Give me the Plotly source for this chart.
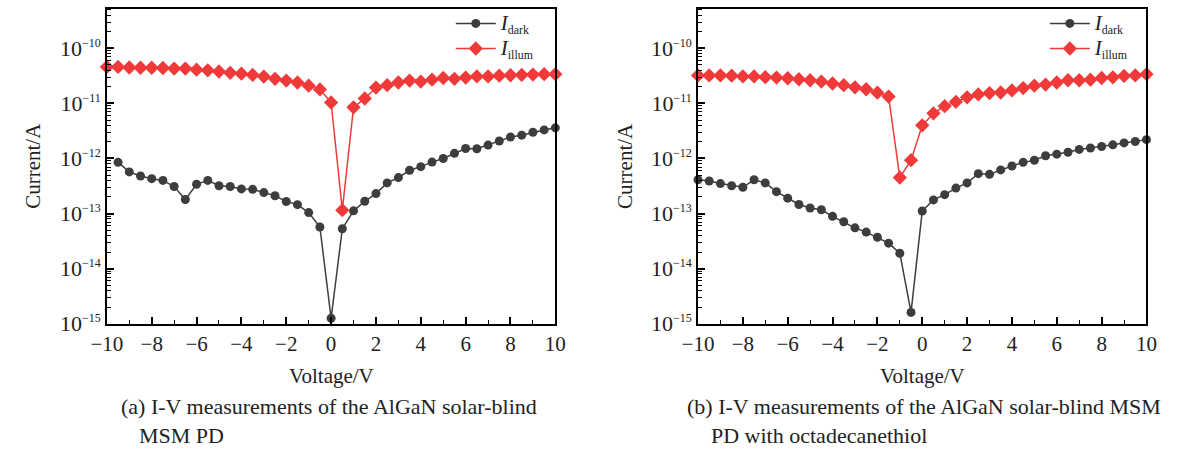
import plotly.graph_objects as go

voltage = [-10, -9.5, -9, -8.5, -8, -7.5, -7, -6.5, -6, -5.5, -5, -4.5, -4, -3.5, -3, -2.5, -2, -1.5, -1, -0.5,
           0, 0.5, 1, 1.5, 2, 2.5, 3, 3.5, 4, 4.5, 5, 5.5, 6, 6.5, 7, 7.5, 8, 8.5, 9, 9.5, 10]

# (a) AlGaN solar-blind MSM PD
a_dark = [None, 8.5e-13, 5.7e-13, 4.8e-13, 4.3e-13, 4.0e-13, 3.1e-13, 1.8e-13, 3.4e-13, 4.0e-13,
          3.2e-13, 3.1e-13, 2.8e-13, 2.75e-13, 2.4e-13, 2.1e-13, 1.65e-13, 1.45e-13, 1.04e-13, 5.7e-14,
          1.25e-15, 5.3e-14, 1.12e-13, 1.67e-13, 2.3e-13, 3.6e-13, 4.5e-13, 6.1e-13, 7.1e-13, 8.6e-13,
          1.0e-12, 1.24e-12, 1.52e-12, 1.5e-12, 1.75e-12, 2.08e-12, 2.45e-12, 2.65e-12, 3.0e-12, 3.3e-12, 3.6e-12]
a_illum = [4.6e-11, 4.6e-11, 4.5e-11, 4.45e-11, 4.45e-11, 4.4e-11, 4.3e-11, 4.3e-11, 4.1e-11, 4.0e-11,
           3.8e-11, 3.6e-11, 3.47e-11, 3.3e-11, 3.07e-11, 2.8e-11, 2.6e-11, 2.4e-11, 2.1e-11, 1.8e-11,
           1.04e-11, 1.15e-13, 8.5e-12, 1.23e-11, 1.94e-11, 2.15e-11, 2.4e-11, 2.6e-11, 2.5e-11, 2.7e-11,
           2.9e-11, 2.8e-11, 2.95e-11, 3.1e-11, 3.1e-11, 3.2e-11, 3.25e-11, 3.3e-11, 3.35e-11, 3.4e-11, 3.4e-11]

# (b) with octadecanethiol
b_dark = [4.1e-13, 3.9e-13, 3.5e-13, 3.2e-13, 3.0e-13, 4.1e-13, 3.6e-13, 2.5e-13, 1.9e-13, 1.46e-13,
          1.26e-13, 1.17e-13, 8.9e-14, 7.1e-14, 5.5e-14, 4.6e-14, 3.7e-14, 2.9e-14, 1.9e-14, 1.6e-15,
          1.11e-13, 1.77e-13, 2.2e-13, 2.9e-13, 3.6e-13, 5.3e-13, 5.15e-13, 6.2e-13, 7.3e-13, 8.5e-13,
          9.3e-13, 1.12e-12, 1.2e-12, 1.3e-12, 1.46e-12, 1.55e-12, 1.65e-12, 1.77e-12, 1.92e-12, 2.03e-12, 2.2e-12]
b_illum = [3.23e-11, 3.23e-11, 3.23e-11, 3.2e-11, 3.1e-11, 3.1e-11, 3.0e-11, 2.95e-11, 2.87e-11, 2.75e-11,
           2.64e-11, 2.5e-11, 2.3e-11, 2.15e-11, 1.96e-11, 1.81e-11, 1.57e-11, 1.33e-11, 4.5e-13, 9.3e-13,
           4.0e-12, 6.6e-12, 8.9e-12, 1.07e-11, 1.29e-11, 1.46e-11, 1.54e-11, 1.58e-11, 1.72e-11, 1.9e-11,
           2.1e-11, 2.2e-11, 2.4e-11, 2.64e-11, 2.64e-11, 2.7e-11, 2.9e-11, 2.98e-11, 3.16e-11, 3.23e-11, 3.4e-11]

x_ticks = [-10, -8, -6, -4, -2, 0, 2, 4, 6, 8, 10]
y_exponents = [-15, -14, -13, -12, -11, -10]
captions_a = ["(a) I-V measurements of the AlGaN solar-blind", "MSM PD"]
captions_b = ["(b) I-V measurements of the AlGaN solar-blind MSM", "PD with octadecanethiol"]

W, H = 1178, 462
FONT = "Liberation Serif, Times New Roman, serif"
DARK = "#3d3d3d"
RED = "#f03a3a"
TXT = "#222"

def px(x):
    return x / W

def py(y):
    return 1 - y / H

fig = go.Figure()

panels = [
    (a_dark, a_illum, "x", "y", "legend", (93, 552)),
    (b_dark, b_illum, "x2", "y2", "legend2", (698, 1157)),
]

def legend_name(sub):
    return "<span style='font-size:21px'><i>I</i></span><sub>%s</sub>" % sub

for dark, illum, xa, ya, lg, _ in panels:
    fig.add_trace(go.Scatter(
        x=voltage, y=dark, xaxis=xa, yaxis=ya, mode="lines+markers", name=legend_name("dark"),
        line=dict(color=DARK, width=1.5), marker=dict(symbol="circle", size=9, color=DARK),
        cliponaxis=False, legend=lg, connectgaps=False))
    fig.add_trace(go.Scatter(
        x=voltage, y=illum, xaxis=xa, yaxis=ya, mode="lines+markers", name=legend_name("illum"),
        line=dict(color=RED, width=1.5), marker=dict(symbol="diamond", size=11, color=RED),
        cliponaxis=False, legend=lg))

minor_vals = [m * 10.0 ** e for e in range(-15, -9) for m in range(2, 10)]
y_tickvals = [10.0 ** e for e in y_exponents]
y_ticktext = ["10<sup><span style='font-size:12px'>\u2212%d</span></sup>" % (-e) for e in y_exponents]
x_ticktext = [("\u2212%d" % (-v)) if v < 0 else str(v) for v in x_ticks]

ydom = [py(333), py(9)]
for i, (_, _, xa, ya, lg, (l, r)) in enumerate(panels):
    sfx = "" if i == 0 else "2"
    fig.update_layout(**{
        "xaxis" + sfx: dict(
            domain=[px(l), px(r)], range=[-10, 10], anchor="y" + sfx,
            tickmode="array", tickvals=x_ticks, ticktext=x_ticktext,
            ticks="inside", ticklen=7, tickwidth=1.5, tickcolor="black",
            minor=dict(ticks="inside", ticklen=4, tickwidth=1.2, tickcolor="black", dtick=1, tick0=-10, showgrid=False),
            showline=True, linecolor="black", linewidth=1.5, mirror=True,
            showgrid=False, zeroline=False,
            tickfont=dict(family=FONT, size=21, color=TXT),
        ),
        "yaxis" + sfx: dict(
            domain=ydom, type="log", range=[-15, -9.28], anchor="x" + sfx,
            tickmode="array", tickvals=y_tickvals, ticktext=y_ticktext,
            ticks="inside", ticklen=7, tickwidth=1.5, tickcolor="black",
            minor=dict(ticks="inside", ticklen=4, tickwidth=1.2, tickcolor="black",
                       tickmode="array", tickvals=minor_vals, showgrid=False),
            showline=True, linecolor="black", linewidth=1.5, mirror=True,
            showgrid=False, zeroline=False,
            tickfont=dict(family=FONT, size=22, color=TXT),
        ),
    })

legend_common = dict(
    font=dict(family=FONT, size=17, color=TXT), bgcolor="rgba(0,0,0,0)",
    xanchor="left", yanchor="top", tracegroupgap=0, itemwidth=40,
)
fig.update_layout(
    legend=dict(x=px(445), y=py(6), **legend_common),
    legend2=dict(x=px(1053), y=py(6), **legend_common),
)

annotations = []
for (l, r), ytx in [((93, 552), 18), ((698, 1157), 623)]:
    annotations.append(dict(text="Voltage/V", x=px((l + r) / 2), y=py(387), xref="paper", yref="paper",
                            showarrow=False, xanchor="center", yanchor="middle",
                            font=dict(family=FONT, size=21, color=TXT)))
    annotations.append(dict(text="Current/A", x=px(ytx), y=py(171), xref="paper", yref="paper",
                            showarrow=False, xanchor="center", yanchor="middle", textangle=-90,
                            font=dict(family=FONT, size=21, color=TXT)))
x_cap = {0: (105, 124), 1: (685, 709)}
for i, caps in enumerate([captions_a, captions_b]):
    x1, x2 = x_cap[i]
    annotations.append(dict(text=caps[0], x=px(x1), y=py(418), xref="paper", yref="paper",
                            showarrow=False, xanchor="left", yanchor="middle",
                            font=dict(family=FONT, size=22, color=TXT)))
    annotations.append(dict(text=caps[1], x=px(x2), y=py(448), xref="paper", yref="paper",
                            showarrow=False, xanchor="left", yanchor="middle",
                            font=dict(family=FONT, size=22, color=TXT)))

fig.update_layout(
    width=W, height=H, margin=dict(l=0, r=0, t=0, b=0),
    paper_bgcolor="white", plot_bgcolor="white",
    annotations=annotations, showlegend=True,
)

fig.write_html("out.html")
